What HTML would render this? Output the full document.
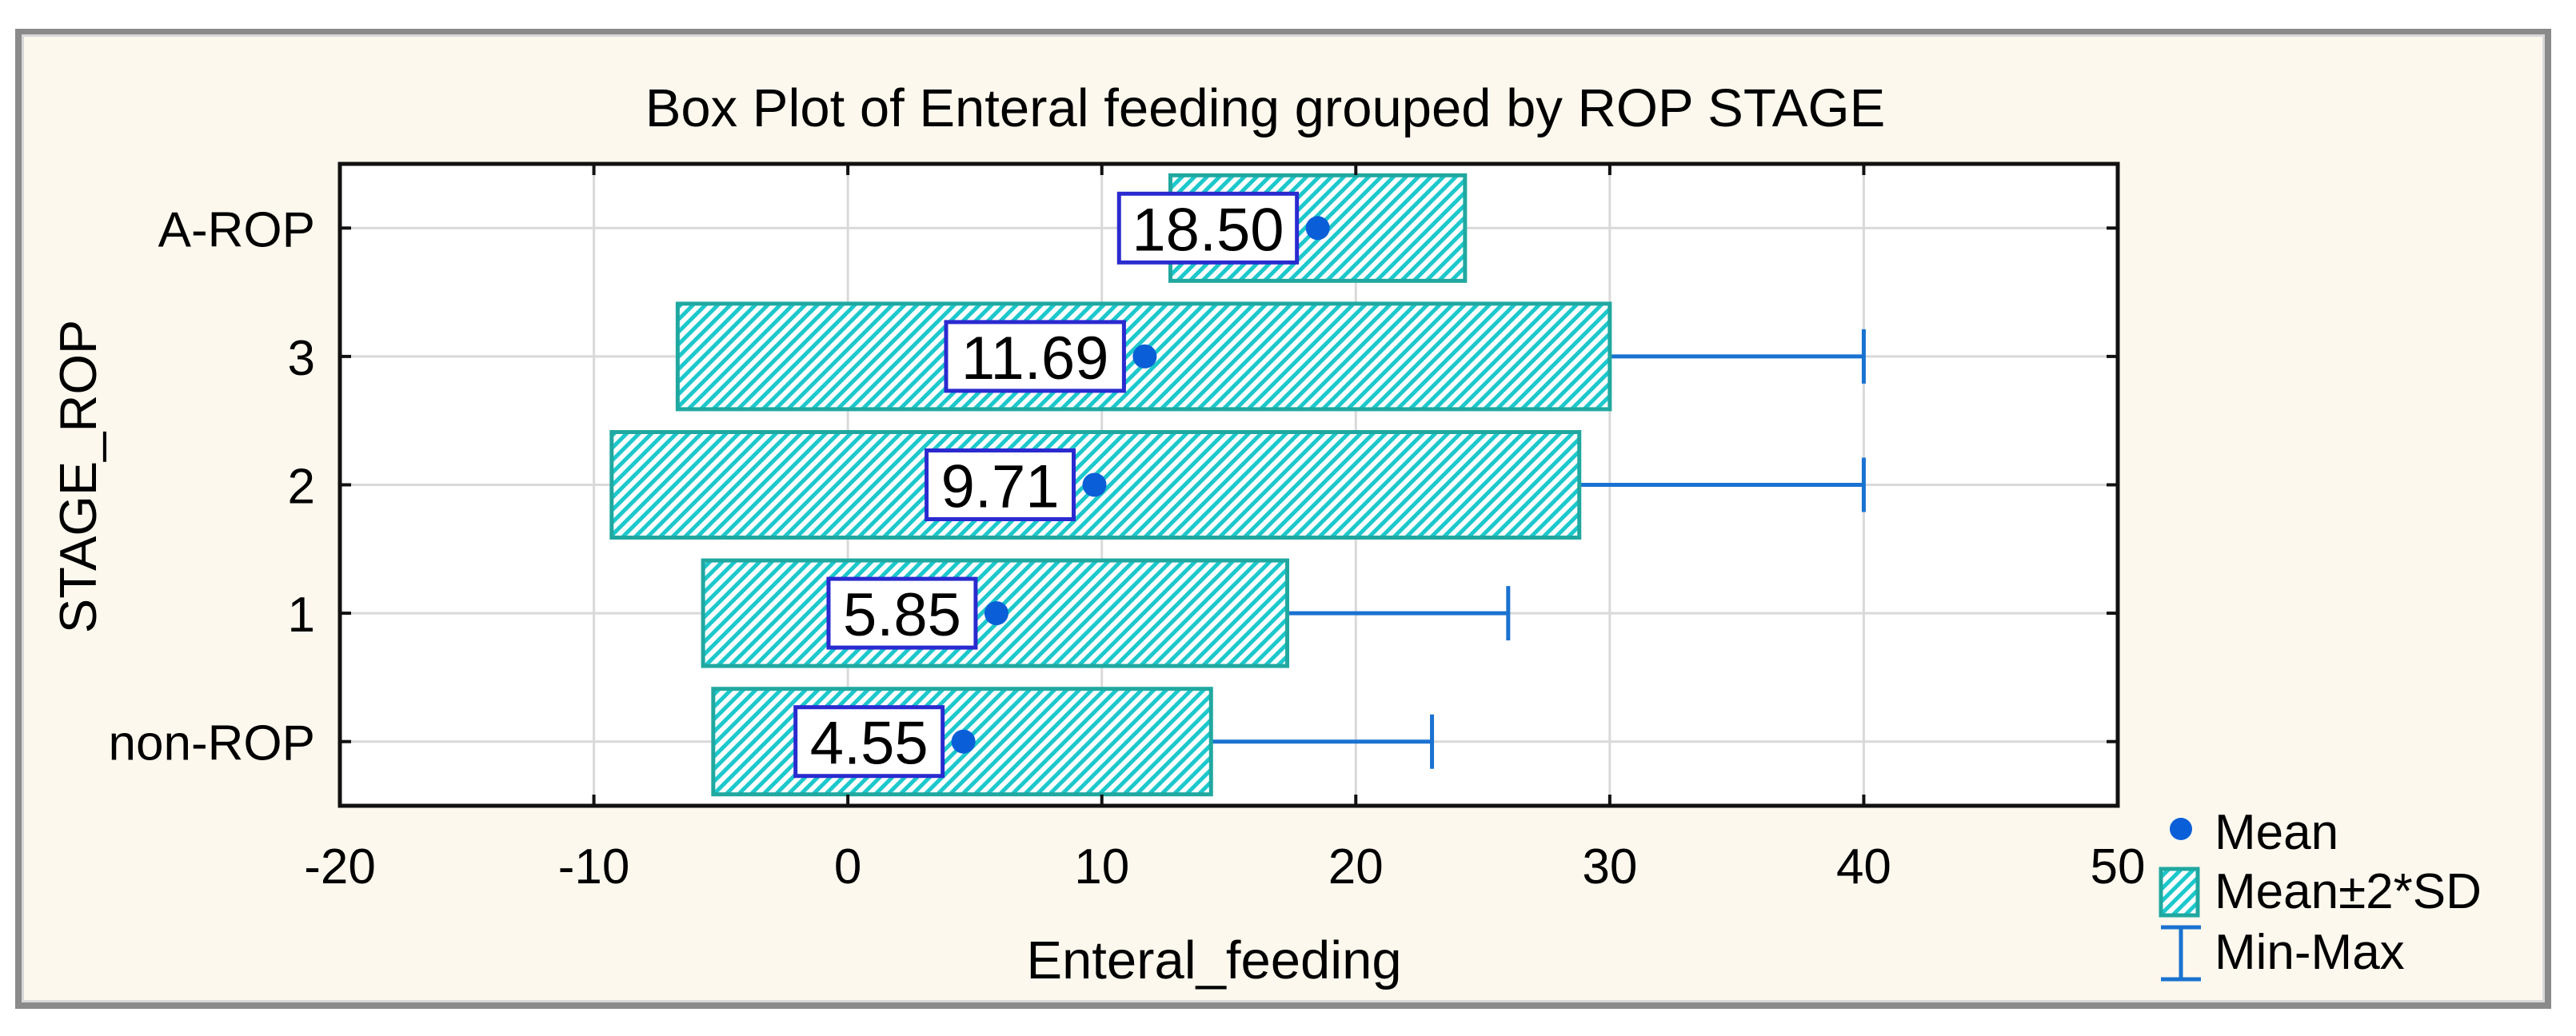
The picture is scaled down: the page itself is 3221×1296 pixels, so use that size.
<!DOCTYPE html>
<html><head><meta charset="utf-8"><style>
html,body{margin:0;padding:0;background:#fff;}
svg{display:block;font-family:"Liberation Sans",Arial,sans-serif;}
</style></head><body>
<svg id="chart" width="3221" height="1296" viewBox="0 0 3221 1296" xmlns="http://www.w3.org/2000/svg">
<defs>
<pattern id="hatch" patternUnits="userSpaceOnUse" width="11" height="11" patternTransform="rotate(45)">
<rect width="11" height="11" fill="#fff"/>
<rect x="0" y="0" width="5" height="11" fill="#1cc8cc"/>
</pattern>
</defs>
<rect x="19" y="36" width="3171" height="1226" fill="#8a8a8a"/>
<rect x="27" y="43" width="3155" height="1211" fill="#d8d8d8"/>
<rect x="30" y="46" width="3149" height="1205" fill="#fdf8ee"/>
<text x="1582" y="158" font-size="67" text-anchor="middle" fill="#000">Box Plot of Enteral feeding grouped by ROP STAGE</text>
<rect x="425" y="205" width="2223" height="803" fill="#fff"/>
<g id="grid"></g>
<g id="marks"></g>
<rect x="425" y="205" width="2223" height="803" fill="none" stroke="#111" stroke-width="5"/>
<g id="axes"></g>
<text x="1518" y="1224" font-size="67" text-anchor="middle">Enteral_feeding</text>
<text transform="translate(120,596) rotate(-90)" font-size="65" text-anchor="middle">STAGE_ROP</text>
<g>
<circle cx="2727" cy="1037" r="14" fill="#0a5fd8"/>
<text x="2769" y="1062" font-size="62">Mean</text>
<rect x="2702" y="1087" width="46" height="58" fill="url(#hatch)" stroke="#20a8a0" stroke-width="5"/>
<text x="2769" y="1136" font-size="62">Mean±2*SD</text>
<g stroke="#1a72d0" stroke-width="5">
<line x1="2727" y1="1160" x2="2727" y2="1225"/><line x1="2702" y1="1160" x2="2752" y2="1160"/><line x1="2702" y1="1225" x2="2752" y2="1225"/>
</g>
<text x="2769" y="1212" font-size="62">Min-Max</text>
</g>
</svg>
<script>
const categories = ["A-ROP", "3", "2", "1", "non-ROP"];
const means = [18.50, 11.69, 9.71, 5.85, 4.55];
const lowerSD = [12.7, -6.7, -9.3, -5.7, -5.3];
const upperSD = [24.3, 30.0, 28.8, 17.3, 14.3];
const maxVals = [24.3, 40, 40, 26, 23];
const meanLabels = ["18.50", "11.69", "9.71", "5.85", "4.55"];
const xTicks = [-20, -10, 0, 10, 20, 30, 40, 50];

const NS = "http://www.w3.org/2000/svg";
const X0 = 425, X1 = 2648, Y0 = 205, Y1 = 1008;
const xMin = -20, xMax = 50;
function xScale(v){ return X0 + (v - xMin) / (xMax - xMin) * (X1 - X0); }
const band = (Y1 - Y0) / categories.length;
function yScale(i){ return Y0 + band * (i + 0.5); }
function mk(tag, attrs, parent){
  const e = document.createElementNS(NS, tag);
  for (const k in attrs) e.setAttribute(k, attrs[k]);
  parent.appendChild(e); return e;
}
const grid = document.getElementById('grid');
const marks = document.getElementById('marks');
const axes = document.getElementById('axes');

xTicks.forEach((t) => {
  const x = xScale(t);
  const gl = mk('line', {x1:x, x2:x, y1:Y0, y2:Y1, stroke:'#d9d9d9', 'stroke-width':3}, grid);
  
  
  const tk = mk('line', {x1:x, x2:x, y1:Y0, y2:Y0+14, stroke:'#111', 'stroke-width':4}, axes);
  
  
  const tb = mk('line', {x1:x, x2:x, y1:Y1-14, y2:Y1, stroke:'#111', 'stroke-width':4}, axes);
  
  
  const lb = mk('text', {x:x, y:1105, 'font-size':62, 'text-anchor':'middle'}, axes);
  
  
  lb.textContent = String(t);
});

categories.forEach((c, i) => {
  const y = yScale(i);
  const gl = mk('line', {x1:X0, x2:X1, y1:y, y2:y, stroke:'#d9d9d9', 'stroke-width':3}, grid);
  
  
  const tk = mk('line', {x1:X0, x2:X0+14, y1:y, y2:y, stroke:'#111', 'stroke-width':4}, axes);
  
  
  const tr = mk('line', {x1:X1-14, x2:X1, y1:y, y2:y, stroke:'#111', 'stroke-width':4}, axes);
  
  
  const lb = mk('text', {x:394, y:y+23, 'font-size':62, 'text-anchor':'end'}, axes);
  
  
  lb.textContent = c;

  const half = 66;
  const xl = xScale(lowerSD[i]), xr = xScale(upperSD[i]);
  if (maxVals[i] > upperSD[i]) {
    const xm = xScale(maxVals[i]);
    const wh = mk('g', {stroke:'#1a72d0', 'stroke-width':5}, marks);
    
    
    mk('line', {x1:xr, x2:xm, y1:y, y2:y}, wh);
    mk('line', {x1:xm, x2:xm, y1:y-34, y2:y+34}, wh);
  }
  const box = mk('rect', {x:xl, y:y-half, width:xr-xl, height:half*2, fill:'url(#hatch)', stroke:'#20a8a0', 'stroke-width':5}, marks);
  
  

  const mx = xScale(means[i]);
  const dot = mk('circle', {cx:mx, cy:y, r:15, fill:'#0a5fd8'}, marks);
  
  

  const txt = meanLabels[i];
  const tw = txt.length * 0.52 * 74 ;
  const w = tw + 30;
  const lr = mk('rect', {x:mx-26-w, y:y-43, width:w, height:86, fill:'#fff', stroke:'#2a2ad0', 'stroke-width':5}, marks);
  
  
  const lt = mk('text', {x:mx-26-w/2, y:y+28, 'font-size':76, 'text-anchor':'middle'}, marks);
  
  
  lt.textContent = txt;
});
</script>
</body></html>
